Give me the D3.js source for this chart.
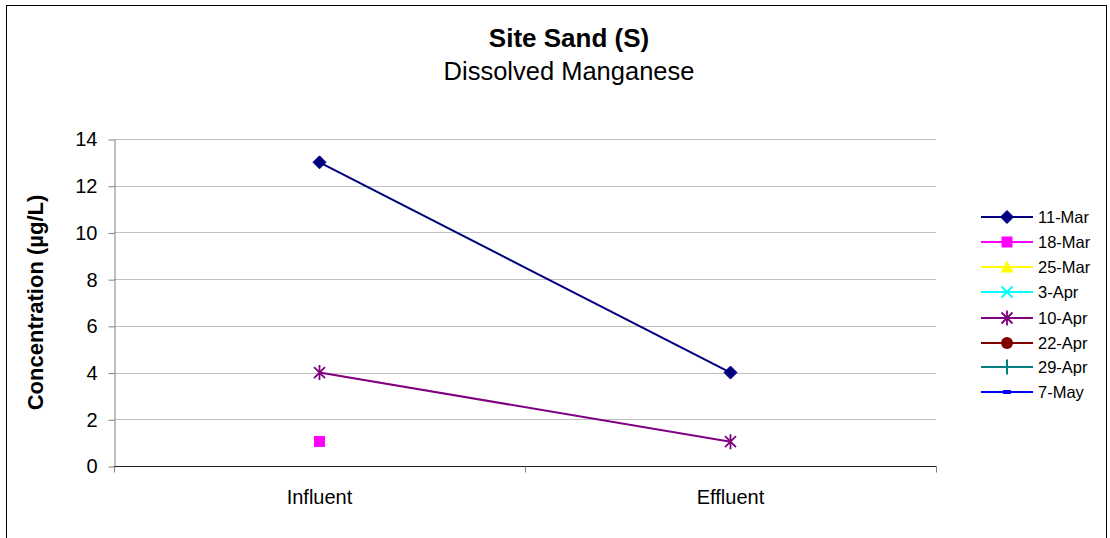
<!DOCTYPE html>
<html>
<head>
<meta charset="utf-8">
<script src="https://cdn.jsdelivr.net/npm/d3@7"></script>
<style>
  html, body { margin: 0; padding: 0; background: #fff; }
  svg { display: block; font-family: "Liberation Sans", Arial, sans-serif; }
</style>
</head>
<body>
<svg id="chart" width="1110" height="538"></svg>
<script>
// Sampling points and the dates samples were taken
const categories = ["Influent", "Effluent"];
const seriesNames = ["11-Mar", "18-Mar", "25-Mar", "3-Apr", "10-Apr", "22-Apr", "29-Apr", "7-May"];
const seriesColors = ["#000080", "#FF00FF", "#FFFF00", "#00FFFF", "#800080", "#800000", "#008080", "#0000FF"];
const seriesMarkers = ["diamond", "square", "triangle", "x", "star", "circle", "plus", "dash"];

// Dissolved manganese (µg/L) per sampling date: [Influent, Effluent]; null = no result
const mar11 = [13, 4];
const mar18 = [1.05, null];
const mar25 = [null, null];
const apr3 = [null, null];
const apr10 = [4, 1.04];
const apr22 = [null, null];
const apr29 = [null, null];
const may7 = [null, null];
const seriesValues = [mar11, mar18, mar25, apr3, apr10, apr22, apr29, may7];

const yTicks = [0, 2, 4, 6, 8, 10, 12, 14];

const svg = d3.select("#chart");

// Outer chart frame
svg.append("rect")
  .attr("x", 6.5).attr("y", 5.5)
  .attr("width", 1100).attr("height", 540)
  .attr("fill", "none").attr("stroke", "#000").attr("stroke-width", 1);

const plot = { left: 114, right: 936, top: 139, bottom: 466 };

const x = d3.scaleBand().domain(categories).range([plot.left, plot.right]);
const y = d3.scaleLinear().domain([0, 14]).range([plot.bottom, plot.top]);

// Horizontal gridlines
svg.append("g")
  .selectAll("line")
  .data(yTicks.filter(t => t > 0))
  .join("line")
  .attr("x1", plot.left).attr("x2", plot.right)
  .attr("y1", d => Math.round(y(d)) + 0.5).attr("y2", d => Math.round(y(d)) + 0.5)
  .attr("stroke", "#c0c0c0").attr("stroke-width", 1);

// Y axis
const yAxis = svg.append("g")
  .attr("transform", `translate(${plot.left + 0.5},0.5)`)
  .call(d3.axisLeft(y).tickValues(yTicks).tickSize(6).tickSizeOuter(0).tickPadding(11));
yAxis.select(".domain").attr("stroke", "#808080");
yAxis.selectAll(".tick line").attr("stroke", "#808080");
yAxis.selectAll("text").attr("font-size", 20).attr("fill", "#000")
  .attr("font-family", "'Liberation Sans', Arial, sans-serif");

// X axis with boundary ticks between categories
const xAxisG = svg.append("g").attr("transform", `translate(0,${plot.bottom + 0.5})`);
xAxisG.append("line")
  .attr("x1", plot.left).attr("x2", plot.right + 0.5)
  .attr("stroke", "#202020").attr("stroke-width", 1);
const boundaries = [plot.left, ...categories.map(c => x(c) + x.bandwidth())];
xAxisG.selectAll("line.tk")
  .data(boundaries)
  .join("line")
  .attr("class", "tk")
  .attr("x1", d => Math.round(d) + 0.5).attr("x2", d => Math.round(d) + 0.5)
  .attr("y1", 0).attr("y2", 6)
  .attr("stroke", "#808080");
xAxisG.selectAll("text")
  .data(categories)
  .join("text")
  .attr("x", d => x(d) + x.bandwidth() / 2)
  .attr("y", 37)
  .attr("text-anchor", "middle")
  .attr("font-size", 20)
  .text(d => d);

// Titles
svg.append("text")
  .attr("x", 569).attr("y", 47)
  .attr("text-anchor", "middle")
  .attr("font-size", 26).attr("font-weight", "bold")
  .text("Site Sand (S)");
svg.append("text")
  .attr("x", 569).attr("y", 80)
  .attr("text-anchor", "middle")
  .attr("font-size", 25.5)
  .text("Dissolved Manganese");

// Y axis title
svg.append("text")
  .attr("transform", `translate(43,${(plot.top + plot.bottom) / 2}) rotate(-90)`)
  .attr("text-anchor", "middle")
  .attr("font-size", 22).attr("font-weight", "bold")
  .text("Concentration (µg/L)");

// Marker drawing
function drawMarker(g, type, color, cx, cy) {
  switch (type) {
    case "diamond":
      g.append("path")
        .attr("d", `M${cx},${cy - 6.5}L${cx + 6.5},${cy}L${cx},${cy + 6.5}L${cx - 6.5},${cy}Z`)
        .attr("fill", color).attr("stroke", color);
      break;
    case "square":
      g.append("rect")
        .attr("x", cx - 5.5).attr("y", cy - 5.5).attr("width", 11).attr("height", 11)
        .attr("fill", color);
      break;
    case "triangle":
      g.append("path")
        .attr("d", `M${cx},${cy - 6.5}L${cx + 6.5},${cy + 5.5}L${cx - 6.5},${cy + 5.5}Z`)
        .attr("fill", color);
      break;
    case "x":
      g.append("path")
        .attr("d", `M${cx - 5.5},${cy - 5.5}L${cx + 5.5},${cy + 5.5}M${cx - 5.5},${cy + 5.5}L${cx + 5.5},${cy - 5.5}`)
        .attr("stroke", color).attr("stroke-width", 2).attr("fill", "none");
      break;
    case "star":
      g.append("path")
        .attr("d", `M${cx - 5.5},${cy - 5.5}L${cx + 5.5},${cy + 5.5}M${cx - 5.5},${cy + 5.5}L${cx + 5.5},${cy - 5.5}M${cx},${cy - 7.5}L${cx},${cy + 7.5}`)
        .attr("stroke", color).attr("stroke-width", 1.8).attr("fill", "none");
      break;
    case "circle":
      g.append("circle")
        .attr("cx", cx).attr("cy", cy).attr("r", 6)
        .attr("fill", color);
      break;
    case "plus":
      g.append("path")
        .attr("d", `M${cx - 6},${cy}L${cx + 6},${cy}M${cx},${cy - 7.5}L${cx},${cy + 7.5}`)
        .attr("stroke", color).attr("stroke-width", 2).attr("fill", "none");
      break;
    case "dash":
      g.append("rect")
        .attr("x", cx - 4).attr("y", cy - 2).attr("width", 8).attr("height", 4)
        .attr("fill", color);
      break;
  }
}

// Series lines and markers
const series = seriesNames.map((name, i) => ({
  name, color: seriesColors[i], marker: seriesMarkers[i],
  points: categories.map((c, j) => ({ c, v: seriesValues[i][j] }))
}));

const cx = c => x(c) + x.bandwidth() / 2;
const line = d3.line()
  .defined(d => d.v !== null)
  .x(d => cx(d.c))
  .y(d => y(d.v));

const seriesG = svg.append("g");
series.forEach(s => {
  const g = seriesG.append("g");
  g.append("path")
    .datum(s.points)
    .attr("d", line)
    .attr("fill", "none")
    .attr("stroke", s.color)
    .attr("stroke-width", 2);
  s.points.filter(p => p.v !== null).forEach(p => drawMarker(g, s.marker, s.color, cx(p.c), y(p.v)));
});

// Legend
const legend = svg.append("g");
const legendRows = [217, 242, 267, 292, 318, 343, 367, 392];
series.forEach((s, i) => {
  const ly = legendRows[i];
  const g = legend.append("g");
  g.append("line")
    .attr("x1", 981).attr("x2", 1033)
    .attr("y1", ly).attr("y2", ly)
    .attr("stroke", s.color).attr("stroke-width", 2);
  drawMarker(g, s.marker, s.color, 1007, ly);
  g.append("text")
    .attr("x", 1038).attr("y", ly + 6)
    .attr("font-size", 16.5)
    .text(s.name);
});
</script>
</body>
</html>
